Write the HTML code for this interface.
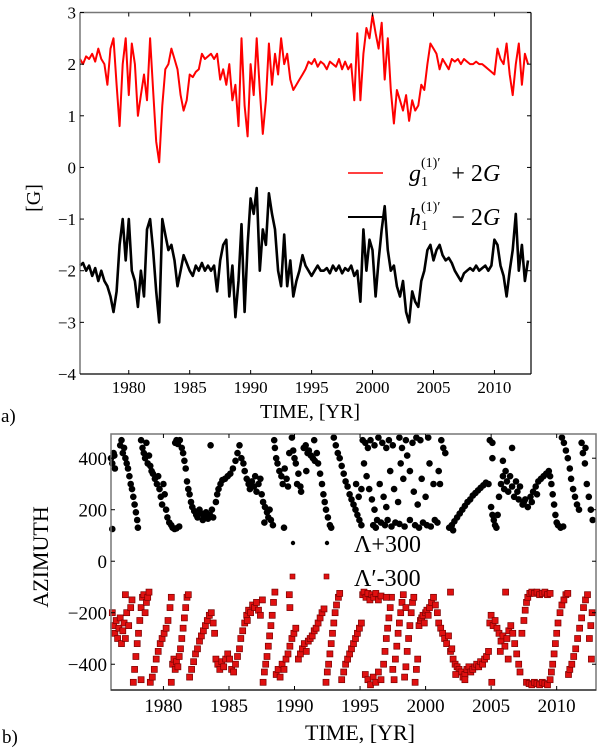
<!DOCTYPE html>
<html><head><meta charset="utf-8"><style>
html,body{margin:0;padding:0;background:#fff;}
svg{display:block;font-family:"Liberation Serif",serif;}
</style></head><body>
<svg id="fig" width="600" height="750" viewBox="0 0 600 750">
<g id="topPanel"></g>
<g id="botPanel"></g>
</svg>
<script>
const topStart = 1976.0;
const topStep = 0.25;
const gSeries = [2.1,2.0,2.15,2.1, 2.2,2.05,2.3,2.1, 2.0,1.6,2.3,2.5, 1.6,0.8,2.0,2.5, 1.4,2.4,2.0,1.0, 1.4,1.8,1.3,2.5, 1.5,0.5,0.1,1.2, 1.9,2.0,2.3,2.1, 1.9,1.4,1.1,1.3, 1.8,1.75,1.85,1.9, 2.2,2.1,2.15,2.2, 2.1,2.2,1.7,1.9, 1.6,2.0,1.3,1.6, 0.8,2.5,1.2,0.6, 2.0,1.4,2.5,1.5, 0.65,1.3,2.4,1.6, 2.2,1.8,2.5,2.0, 2.2,1.7,1.5,1.6, 1.7,1.8,1.9,2.05, 2.0,2.1,1.95,2.05, 2.0,1.9,2.05,2.0, 1.95,2.1,1.9,2.05, 1.9,2.0,1.3,2.6, 1.3,2.2,2.7,2.5, 2.95,2.6,2.3,2.8, 1.7,2.5,1.5,0.85, 1.5,1.3,1.1,1.4, 0.9,1.3,1.1,1.2, 1.6,1.5,2.0,2.4, 2.3,2.2,1.9,2.1, 2.0,1.9,2.1,2.05, 2.1,2.0,2.1,2.05, 2.0,2.0,2.05,2.0, 2.0,1.95,1.9,1.85, 1.8,2.3,2.1,2.0, 2.4,1.8,1.4,2.0, 2.4,1.6,2.2,2.0];
const hSeries = [-1.9,-1.85,-2.0,-1.9, -2.1,-1.95,-2.2,-2.0, -2.2,-2.3,-2.5,-2.8, -2.4,-1.5,-1.0,-1.8, -1.0,-2.0,-2.2,-2.7, -2.0,-2.5,-1.2,-1.0, -1.6,-2.4,-3.0,-1.0, -1.3,-1.6,-1.5,-1.8, -2.3,-2.0,-1.7,-1.85, -2.0,-2.1,-1.9,-2.0, -1.85,-2.0,-1.9,-2.0, -1.9,-2.4,-1.8,-1.5, -1.4,-2.5,-1.9,-2.9, -2.2,-1.1,-2.8,-1.5, -0.6,-0.9,-0.4,-2.0, -1.2,-1.5,-0.5,-0.9, -1.2,-2.0,-2.3,-1.3, -2.3,-1.8,-2.5,-2.2, -2.0,-1.7,-1.9,-2.0, -2.1,-2.0,-1.9,-2.0, -2.0,-1.95,-2.05,-1.9, -2.0,-1.9,-2.05,-1.95, -2.0,-1.9,-2.1,-2.0, -2.6,-1.2,-2.0,-1.4, -1.6,-2.5,-1.8,-1.2, -0.75,-1.6,-2.0,-1.9, -2.3,-2.5,-2.2,-2.8, -3.0,-2.4,-2.6,-2.7, -2.2,-2.0,-1.6,-1.5, -1.8,-1.6,-1.5,-1.7, -1.8,-1.75,-1.85,-2.0, -2.1,-2.2,-2.05,-2.0, -1.95,-2.0,-1.9,-2.0, -1.95,-1.9,-2.0,-1.9, -1.4,-1.5,-1.9,-2.1, -2.5,-2.0,-1.6,-0.9, -2.0,-1.5,-2.2,-1.8];
const xTicks = [1980,1985,1990,1995,2000,2005,2010];
const topYTicks = [-4,-3,-2,-1,0,1,2,3];
const botYTicks = [-400,-200,0,200,400];
const lamPts = [[1976.0,400],[1976.1,380],[1976.2,420],[1976.3,360],[1976.1,125],[1976.25,410],
[1976.7,450],[1976.8,470],[1976.9,420],[1977.0,440],[1977.1,400],[1977.2,380],[1977.3,360],[1977.4,330],[1977.5,300],[1977.6,280],[1977.7,250],[1977.8,220],[1977.9,190],[1978.0,160],[1978.05,130],
[1978.3,470],[1978.4,440],[1978.5,420],[1978.6,400],[1978.7,460],[1978.8,380],[1978.9,410],[1979.0,370],
[1979.1,350],[1979.2,340],[1979.35,320],[1979.5,300],[1979.6,330],[1979.7,280],[1979.8,250],[1979.9,220],[1980.0,300],[1980.1,260],[1980.2,200],[1980.3,170],[1980.45,150],[1980.6,140],[1980.7,130],[1980.85,125],[1981.0,128],[1981.2,135],
[1980.9,460],[1981.0,470],[1981.1,455],[1981.25,470],[1981.4,440],[1981.5,420],[1981.6,390],[1981.7,360],[1981.8,310],[1981.9,280],[1982.0,260],[1982.1,230],[1982.2,210],[1982.35,195],[1982.5,180],[1982.6,170],[1982.75,200],[1982.9,185],[1983.0,160],[1983.1,175],[1983.25,190],[1983.4,165],[1983.55,180],[1983.7,200],[1983.8,170],
[1984.0,230],[1984.1,260],[1984.2,280],[1984.35,300],[1984.5,315],[1984.7,320],[1984.9,330],[1985.1,340],[1985.3,360],[1985.5,390],[1985.65,420],[1985.8,450],[1983.6,450],
[1985.95,400],[1986.1,380],[1986.2,350],[1986.35,320],[1986.5,300],[1986.6,280],[1986.75,310],[1986.9,290],[1987.0,330],[1987.1,270],[1987.25,300],[1987.4,320],
[1987.5,260],[1987.6,230],[1987.75,210],[1987.9,190],[1988.0,170],[1988.1,200],[1988.2,160],[1988.35,140],[1987.7,150],
[1988.45,470],[1988.5,440],[1988.6,400],[1988.7,380],[1988.85,350],[1989.0,330],[1989.1,300],[1989.25,360],[1989.4,320],[1989.5,290],[1989.6,420],[1989.2,130],
[1989.8,480],[1989.9,430],[1990.0,400],[1990.1,380],[1990.2,300],[1990.3,340],[1990.45,290],[1990.5,270],
[1990.7,440],[1990.85,450],[1991.0,420],[1991.1,430],[1991.25,410],[1991.4,400],[1991.55,390],[1991.7,420],[1991.8,380],[1991.95,340],[1992.1,300],[1992.2,260],[1992.3,230],[1992.4,200],[1992.55,170],[1992.7,140],[1992.8,130],[1990.9,350],[1991.5,470],
[1993.0,480],[1993.15,450],[1993.3,420],[1993.45,400],[1993.6,370],[1993.75,340],[1993.9,310],[1994.05,290],[1994.2,260],[1994.35,240],[1994.5,220],[1994.65,200],[1994.8,180],[1994.95,160],[1995.1,140],[1994.7,300],[1994.9,250],[1995.1,280],
[1995.2,470],[1995.4,460],[1995.6,440],[1995.8,470],[1996.1,450],[1996.4,480],[1996.7,460],[1997.0,440],[1997.2,470],[1997.5,450],[1998.0,480],[1998.2,440],[1998.5,470],[1999.0,460],[1999.3,480],[1999.6,470],
[1995.3,380],[1995.5,330],[1995.7,280],[1995.9,240],[1996.1,200],[1996.3,160],[1996.5,300],[1996.8,250],[1997.0,210],[1997.3,350],[1997.6,280],[1997.9,230],[1998.1,380],[1998.3,320],[1998.6,410],[1998.8,350],[1999.1,270],[1999.4,220],[1999.7,320],[2000.0,250],[2000.3,380],[2000.6,300],
[1996.0,140],[1996.2,130],[1996.6,150],[1996.9,140],[1997.1,160],[1997.4,135],[1997.7,150],[1998.0,145],[1998.4,135],[1998.8,160],[1999.2,140],[1999.5,130],[1999.8,150],[2000.1,140],[2000.4,135],[2000.7,160],[2000.9,150],
[2001.2,470],[2001.35,440],[2001.5,420],[2001.0,350],[2001.1,300],[2000.2,480],
[2001.8,130],[2002.0,140],[2002.2,155],[2002.4,170],[2002.6,185],[2002.8,200],[2003.0,215],[2003.2,230],[2003.4,240],[2003.6,255],[2003.8,265],[2004.0,275],[2004.2,285],[2004.4,295],[2004.6,305],[2004.8,300],[2002.1,120],
[2004.9,470],[2005.1,460],[2005.0,210],[2005.1,180],[2005.2,160],[2005.3,140],[2005.4,130],[2005.5,180],[2005.1,400],
[2005.6,250],[2005.75,300],[2005.9,330],[2006.0,280],[2006.1,350],[2006.2,310],[2006.3,270],[2006.45,330],[2006.6,290],[2006.75,250],[2006.9,310],[2007.0,270],[2007.1,240],[2007.2,290],[2005.9,390],[2006.6,440],
[2007.4,220],[2007.6,240],[2007.8,210],[2008.0,250],[2008.2,270],[2008.4,290],[2008.6,310],[2008.8,320],[2009.0,330],[2009.2,340],[2009.4,350],[2009.5,330],[2009.6,300],[2009.7,260],[2009.8,220],[2009.9,180],[2010.0,150],[2010.1,140],[2010.3,130],[2010.5,135],[2007.5,230],[2008.1,230],[2008.5,260],
[2010.4,480],[2010.55,460],[2010.7,430],[2010.85,400],[2011.0,360],[2011.1,320],[2011.25,280],[2011.4,250],[2011.55,220],[2011.7,200],
[2011.9,460],[2012.0,420],[2012.15,380],[2012.3,300],[2012.45,250],[2012.6,200],[2012.75,160],[2012.2,440]];
const lamPrimePts = [[1976.1,-200],[1976.2,-250],[1976.3,-280],[1976.4,-230],[1976.5,-300],[1976.6,-260],[1976.7,-220],[1976.8,-320],[1976.9,-270],[1977.0,-240],[1977.1,-300],[1977.2,-200],[1977.35,-250],[1977.5,-180],[1977.6,-150],[1977.1,-130],
[1977.7,-470],[1977.8,-420],[1977.9,-370],[1978.0,-320],[1978.1,-280],[1978.2,-230],[1978.3,-180],[1978.4,-140],[1978.5,-130],[1978.6,-200],[1978.7,-160],[1978.8,-140],[1978.9,-120],[1978.3,-460],
[1979.0,-470],[1979.15,-450],[1979.3,-420],[1979.45,-380],[1979.6,-350],[1979.75,-320],[1979.9,-300],[1980.05,-280],[1980.2,-260],[1980.35,-230],[1980.5,-180],[1980.6,-140],[1980.6,-470],
[1980.7,-400],[1980.8,-380],[1980.9,-420],[1981.0,-390],[1981.1,-410],[1981.2,-370],[1981.3,-340],[1981.4,-300],[1981.5,-260],[1981.6,-220],[1981.7,-180],[1981.8,-140],[1981.9,-130],
[1982.0,-450],[1982.15,-420],[1982.3,-390],[1982.45,-360],[1982.6,-340],[1982.75,-310],[1982.9,-290],[1983.05,-270],[1983.2,-250],[1983.35,-230],[1983.5,-210],[1983.65,-200],[1983.8,-240],[1983.9,-280],
[1984.0,-380],[1984.15,-400],[1984.3,-420],[1984.45,-390],[1984.6,-410],[1984.75,-380],[1984.9,-360],[1985.05,-380],[1985.2,-420],[1985.35,-430],[1985.5,-400],[1985.65,-370],[1985.8,-340],
[1985.9,-300],[1986.05,-270],[1986.2,-240],[1986.35,-210],[1986.5,-190],[1986.65,-200],[1986.8,-170],[1986.95,-180],[1987.1,-160],[1987.25,-190],[1987.4,-210],[1987.55,-150],[1986.4,-230],
[1987.6,-470],[1987.7,-430],[1987.8,-400],[1987.9,-370],[1988.0,-330],[1988.1,-290],[1988.2,-250],[1988.3,-210],[1988.4,-160],[1988.5,-120],
[1988.6,-440],[1988.75,-420],[1988.9,-450],[1989.05,-400],[1989.2,-420],[1989.35,-380],[1989.5,-360],[1989.65,-330],[1989.8,-300],[1989.95,-280],[1990.1,-260],[1989.6,-130],[1989.65,-180],
[1990.3,-380],[1990.45,-360],[1990.6,-340],[1990.75,-320],[1990.9,-350],[1991.05,-310],[1991.2,-300],[1991.35,-290],[1991.5,-270],[1991.65,-260],[1991.8,-240],[1991.95,-220],[1992.1,-200],[1992.25,-185],
[1992.4,-470],[1992.5,-430],[1992.6,-400],[1992.7,-360],[1992.8,-320],[1992.9,-280],[1993.0,-240],[1993.1,-200],[1993.2,-170],[1993.35,-140],[1993.45,-125],
[1993.6,-460],[1993.75,-430],[1993.9,-400],[1994.05,-380],[1994.2,-360],[1994.35,-340],[1994.5,-320],[1994.65,-300],[1994.8,-280],[1994.95,-260],[1995.1,-240],[1995.2,-130],
[1995.3,-120],[1995.45,-140],[1995.6,-125],[1995.75,-150],[1995.9,-130],[1996.05,-140],[1996.2,-125],[1996.4,-150],[1996.6,-135],[1995.4,-440],[1995.6,-460],[1995.8,-480],[1996.0,-450],[1996.2,-470],[1996.4,-430],[1996.6,-460],
[1996.8,-400],[1996.9,-350],[1997.0,-300],[1997.1,-260],[1997.2,-220],[1997.3,-180],[1997.4,-140],[1997.5,-420],[1997.6,-460],[1997.7,-380],[1997.8,-330],[1997.9,-280],[1998.0,-240],[1998.1,-200],[1998.2,-160],[1998.3,-130],[1998.4,-450],[1998.5,-410],[1998.6,-350],[1998.7,-300],[1998.8,-250],[1998.9,-200],[1999.0,-160],[1999.1,-140],[1999.2,-470],[1999.3,-420],[1998.5,-180],[1997.0,-140],[1999.4,-380],
[1999.5,-250],[1999.6,-230],[1999.7,-220],[1999.8,-210],[1999.9,-240],[2000.0,-200],[2000.1,-190],[2000.2,-210],[2000.3,-180],[2000.45,-160],[2000.6,-140],[2000.75,-170],[2000.9,-200],
[2001.0,-240],[2001.15,-260],[2001.3,-280],[2001.45,-300],[2001.6,-320],[2001.75,-290],[2001.9,-350],[2001.9,-120],[2002.0,-340],
[2002.1,-380],[2002.25,-400],[2002.4,-410],[2002.55,-420],[2002.7,-430],[2002.85,-450],[2003.0,-440],[2003.15,-420],[2003.3,-410],[2003.45,-430],[2003.6,-420],[2003.75,-410],[2003.9,-400],[2004.05,-410],[2004.2,-390],[2004.35,-400],[2004.5,-380],[2004.65,-370],[2004.8,-350],[2002.3,-440],[2003.0,-460],
[2004.9,-240],[2005.0,-210],[2005.15,-250],[2005.3,-230],[2005.45,-260],[2005.6,-280],[2005.75,-310],[2005.9,-290],[2006.05,-330],[2006.2,-300],[2006.35,-270],[2006.5,-250],[2006.65,-280],[2006.8,-320],[2006.95,-360],[2007.1,-400],[2007.2,-430],[2006.1,-120],[2005.7,-350],[2006.3,-380],[2005.05,-470],
[2007.35,-280],[2007.5,-230],[2007.6,-190],[2007.7,-160],[2007.8,-140],[2007.95,-125],[2008.1,-120],[2008.3,-125],[2008.5,-120],[2008.7,-130],[2008.9,-125],[2009.1,-120],[2009.3,-130],[2009.5,-125],[2007.7,-470],[2007.9,-475],[2008.1,-480],[2008.3,-470],[2008.5,-475],[2008.7,-480],[2008.9,-470],[2009.1,-475],[2009.3,-480],
[2009.5,-460],[2009.6,-430],[2009.7,-400],[2009.8,-360],[2009.9,-320],[2010.0,-280],[2010.1,-240],[2010.25,-200],[2010.4,-170],[2010.55,-150],[2010.7,-130],[2010.85,-125],
[2010.9,-440],[2011.0,-420],[2011.15,-400],[2011.3,-370],[2011.45,-340],[2011.6,-300],[2011.75,-260],[2011.9,-220],[2012.05,-180],[2012.2,-150],[2012.35,-130],[2012.5,-300],[2012.6,-250],[2012.7,-200],[2012.65,-380]];

const NS='http://www.w3.org/2000/svg';
function mk(parent,tag,attrs,text){const e=document.createElementNS(NS,tag);for(const k in attrs)e.setAttribute(k,attrs[k]);if(text!==undefined)e.textContent=text;parent.appendChild(e);return e;}

const fig=document.getElementById('fig');
const topG=document.getElementById('topPanel');
const botG=document.getElementById('botPanel');

// ---- top panel ----
const T={x0:80,x1:531,y0:12.5,y1:374,xmin:1976,xmax:2013,ymin:-4,ymax:3};
const tx=v=>T.x0+(v-T.xmin)/(T.xmax-T.xmin)*(T.x1-T.x0);
const ty=v=>T.y1-(v-T.ymin)/(T.ymax-T.ymin)*(T.y1-T.y0);
function seriesPath(arr){let d='';arr.forEach((v,i)=>{const t=topStart+i*topStep;d+=(i?'L':'M')+tx(t).toFixed(1)+' '+ty(v).toFixed(1);});return d;}
let p=mk(topG,'path',{d:seriesPath(gSeries),fill:'none',stroke:'#ff0000','stroke-width':2,'stroke-linejoin':'round'});


p=mk(topG,'path',{d:seriesPath(hSeries),fill:'none',stroke:'#000','stroke-width':2.6,'stroke-linejoin':'round'});


mk(topG,'line',{x1:T.x0,y1:T.y0,x2:T.x1,y2:T.y0,stroke:'#777','stroke-width':1.5});
mk(topG,'line',{x1:T.x0,y1:T.y0,x2:T.x0,y2:T.y1,stroke:'#777','stroke-width':1.5});
mk(topG,'line',{x1:T.x1,y1:T.y0,x2:T.x1,y2:T.y1,stroke:'#000','stroke-width':1.2});
mk(topG,'line',{x1:T.x0,y1:T.y1,x2:T.x1,y2:T.y1,stroke:'#000','stroke-width':1.2});
xTicks.forEach(v=>{const x=tx(v);
 mk(topG,'line',{x1:x,y1:T.y1,x2:x,y2:T.y1-4,stroke:'#000'});
 mk(topG,'line',{x1:x,y1:T.y0,x2:x,y2:T.y0+4,stroke:'#000'});
 const t=mk(topG,'text',{x:x,y:393,'text-anchor':'middle','font-size':17},String(v));
 
 });
topYTicks.forEach(v=>{const y=ty(v);
 mk(topG,'line',{x1:T.x0,y1:y,x2:T.x0+4,y2:y,stroke:'#000'});
 mk(topG,'line',{x1:T.x1,y1:y,x2:T.x1-4,y2:y,stroke:'#000'});
 const t=mk(topG,'text',{x:76,y:y+6,'text-anchor':'end','font-size':17},v<0?'\u2212'+(-v):String(v));
 
 });

let e=mk(fig,'text',{x:310,y:418,'text-anchor':'middle','font-size':20},'TIME, [YR]');


e=mk(fig,'text',{x:40,y:198,'text-anchor':'middle','font-size':20,transform:'rotate(-90 40 198)'},'[G]');


e=mk(fig,'text',{x:1,y:422,'font-size':19},'a)');


e=mk(fig,'text',{x:2,y:743,'font-size':19},'b)');



// top legend
const lg=mk(topG,'g',{});


mk(lg,'line',{x1:348,y1:173,x2:383,y2:173,stroke:'#ff0000','stroke-width':1.5});
mk(lg,'line',{x1:348,y1:217,x2:383,y2:217,stroke:'#000','stroke-width':2});
function legendText(y,letter,rest){
 const t=mk(lg,'text',{x:409,y:y,'font-size':24});
 mk(t,'tspan',{'font-style':'italic'},letter);
 mk(t,'tspan',{'font-size':14,dy:5},'1');
 mk(t,'tspan',{'font-size':14,dx:-7,dy:-19},'(1)\u2032');
 mk(t,'tspan',{dy:14,dx:5},rest);
 mk(t,'tspan',{'font-style':'italic'},'G');
 return t;
}
let lt=legendText(181,'g',' + 2');


lt=legendText(225,'h',' \u2212 2');



// ---- bottom panel ----
const B={x0:111,x1:596,y0:434,y1:690,xmin:1976,xmax:2013,ymin:-500,ymax:494};
const bx=v=>B.x0+(v-B.xmin)/(B.xmax-B.xmin)*(B.x1-B.x0);
const by=v=>B.y1-(v-B.ymin)/(B.ymax-B.ymin)*(B.y1-B.y0);
const gl=mk(botG,'g',{});


lamPts.forEach(pt=>{mk(gl,'circle',{cx:bx(pt[0]).toFixed(1),cy:by(pt[1]).toFixed(1),r:3.3,fill:'#000'});});
const gr=mk(botG,'g',{});


lamPrimePts.forEach(pt=>{mk(gr,'rect',{x:(bx(pt[0])-3).toFixed(1),y:(by(pt[1])-3).toFixed(1),width:6,height:6,fill:'#e01010',stroke:'#7a0000','stroke-width':0.7});});
mk(botG,'rect',{x:B.x0,y:B.y0,width:B.x1-B.x0,height:B.y1-B.y0,fill:'none',stroke:'#777','stroke-width':1.5});
mk(botG,'line',{x1:B.x0,y1:B.y1,x2:B.x1,y2:B.y1,stroke:'#222','stroke-width':1.3});
xTicks.forEach(v=>{const x=bx(v);
 mk(botG,'line',{x1:x,y1:B.y1,x2:x,y2:B.y1-4,stroke:'#000'});
 mk(botG,'line',{x1:x,y1:B.y0,x2:x,y2:B.y0+4,stroke:'#000'});
 const t=mk(botG,'text',{x:x,y:712,'text-anchor':'middle','font-size':19},String(v));
 
 });
botYTicks.forEach(v=>{const y=by(v);
 mk(botG,'line',{x1:B.x0,y1:y,x2:B.x0+4,y2:y,stroke:'#000'});
 mk(botG,'line',{x1:B.x1,y1:y,x2:B.x1-4,y2:y,stroke:'#000'});
 const t=mk(botG,'text',{x:107,y:y+7,'text-anchor':'end','font-size':19},v<0?'\u2212'+(-v):String(v));
 
 });
e=mk(fig,'text',{x:360,y:740,'text-anchor':'middle','font-size':22},'TIME, [YR]');


e=mk(fig,'text',{x:48,y:557,'text-anchor':'middle','font-size':22,transform:'rotate(-90 48 557)'},'AZIMUTH');


const bl=mk(botG,'g',{});


mk(bl,'circle',{cx:293,cy:543,r:2.2,fill:'#000'});
mk(bl,'circle',{cx:327,cy:543,r:2.2,fill:'#000'});
mk(bl,'rect',{x:290,y:574,width:5,height:5,fill:'#e01010',stroke:'#7a0000','stroke-width':0.6});
mk(bl,'rect',{x:324,y:574,width:5,height:5,fill:'#e01010',stroke:'#7a0000','stroke-width':0.6});
e=mk(bl,'text',{x:354,y:552,'font-size':24},'\u039B+300');


e=mk(bl,'text',{x:354,y:586,'font-size':24},'\u039B\u2032-300');


</script>
</body></html>
